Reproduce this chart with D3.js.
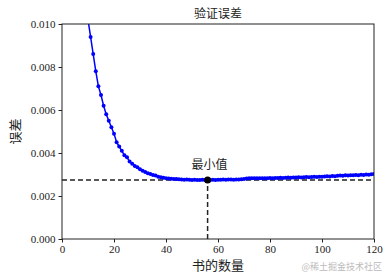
<!DOCTYPE html>
<html>
<head>
<meta charset="utf-8">
<script src="https://cdn.jsdelivr.net/npm/d3@7"></script>
<style>
  body { margin: 0; background: #fff; }
  text { font-family: "Liberation Serif", "Noto Sans CJK SC", serif; }
  .cjk { font-family: "Noto Sans CJK SC", sans-serif; }
</style>
</head>
<body>
<div id="plot_area"></div>
<script>
// data
const bookCounts = d3.range(8, 121);
const errors = [
  0.0125, 0.0112, 0.0102, 0.0094, 0.0086, 0.0078, 0.0071, 0.0067, 0.0062, 0.0058,
  0.0055, 0.0052, 0.0049, 0.0045, 0.0043, 0.0041, 0.0039, 0.0038, 0.0036, 0.0035,
  0.00340, 0.00334, 0.00325, 0.00318, 0.00312, 0.00306, 0.00302, 0.00298, 0.00295, 0.00290,
  0.00287, 0.00285, 0.00282, 0.00281, 0.00280, 0.00279, 0.00279, 0.00278, 0.00277, 0.00276,
  0.00277, 0.00276, 0.00275, 0.00276, 0.00275, 0.00275, 0.00276, 0.00275, 0.00274, 0.00275,
  0.00276, 0.00275, 0.00276, 0.00276, 0.00277, 0.00276, 0.00277, 0.00277, 0.00276, 0.00277,
  0.00277, 0.00278, 0.00279, 0.00281, 0.00283, 0.00283, 0.00282, 0.00283, 0.00283, 0.00282,
  0.00283, 0.00283, 0.00284, 0.00283, 0.00284, 0.00284, 0.00285, 0.00284, 0.00285, 0.00286,
  0.00285, 0.00286, 0.00286, 0.00287, 0.00286, 0.00287, 0.00288, 0.00287, 0.00288, 0.00289,
  0.00288, 0.00289, 0.00290, 0.00291, 0.00292, 0.00291, 0.00293, 0.00292, 0.00294, 0.00295,
  0.00294, 0.00296, 0.00295, 0.00297, 0.00296, 0.00298, 0.00297, 0.00299, 0.00298, 0.00300,
  0.00299, 0.00301, 0.00302
];
const xTicks = [0, 20, 40, 60, 80, 100, 120];
const yTicks = [0, 0.002, 0.004, 0.006, 0.008, 0.010];

const w = 390;
const h = 280;
const mLeft = 62, mRight = 374, mTop = 24, mBottom = 239;

const data = bookCounts.map((x, i) => [x, errors[i]]);
const minIdx = d3.minIndex(errors);
const minPoint = data[minIdx];

const xScale = d3.scaleLinear().domain([0, 120]).range([mLeft, mRight]);
const yScale = d3.scaleLinear().domain([0, 0.010]).range([mBottom, mTop]);

const svg = d3.select('#plot_area')
  .append('svg')
  .attr('width', w)
  .attr('height', h);

svg.append('clipPath').attr('id', 'clip')
  .append('rect')
  .attr('x', mLeft).attr('y', mTop)
  .attr('width', mRight - mLeft).attr('height', mBottom - mTop);

const plot = svg.append('g').attr('clip-path', 'url(#clip)');

// dashed guide lines at the minimum
plot.append('line')
  .attr('x1', xScale(0)).attr('x2', xScale(120))
  .attr('y1', yScale(minPoint[1])).attr('y2', yScale(minPoint[1]))
  .attr('stroke', '#222').attr('stroke-width', 1.5)
  .attr('stroke-dasharray', '5,3');
plot.append('line')
  .attr('x1', xScale(minPoint[0])).attr('x2', xScale(minPoint[0]))
  .attr('y1', yScale(0)).attr('y2', yScale(minPoint[1]))
  .attr('stroke', '#222').attr('stroke-width', 1.5)
  .attr('stroke-dasharray', '5,3');

plot.append('path')
  .datum(data)
  .attr('stroke', 'blue')
  .attr('stroke-width', 1.5)
  .attr('fill', 'none')
  .attr('d', d3.line()
    .x((d) => xScale(d[0]))
    .y((d) => yScale(d[1])));

plot.selectAll('circle.pt')
  .data(data)
  .join('circle')
  .attr('class', 'pt')
  .attr('cx', (d) => xScale(d[0]))
  .attr('cy', (d) => yScale(d[1]))
  .attr('r', 2)
  .attr('fill', 'blue');

svg.append('circle')
  .attr('cx', xScale(minPoint[0]))
  .attr('cy', yScale(minPoint[1]))
  .attr('r', 3.5)
  .attr('fill', 'black');

svg.append('text')
  .attr('class', 'cjk')
  .attr('x', xScale(minPoint[0]) + 2)
  .attr('y', yScale(minPoint[1]) - 11)
  .attr('text-anchor', 'middle')
  .style('font-size', '12px')
  .attr('fill', '#222')
  .text('最小值');

// axes
const xAxis = svg.append('g')
  .attr('transform', 'translate(0,' + mBottom + ')')
  .call(d3.axisBottom(xScale).tickValues(xTicks).tickSize(3.5).tickPadding(3));
const yAxis = svg.append('g')
  .attr('transform', 'translate(' + mLeft + ',0)')
  .call(d3.axisLeft(yScale).tickValues(yTicks).tickSize(3.5).tickPadding(3)
    .tickFormat(d3.format('.3f')));
[xAxis, yAxis].forEach((g) => {
  g.style('font-size', '11px');
  g.selectAll('text').attr('fill', '#222').style('font-family', '"Liberation Serif", serif');
  g.selectAll('line').attr('stroke', '#222');
  g.select('.domain').remove();
});

svg.append('rect')
  .attr('x', mLeft).attr('y', mTop)
  .attr('width', mRight - mLeft).attr('height', mBottom - mTop)
  .attr('fill', 'none').attr('stroke', '#222').attr('stroke-width', 1);

// labels
svg.append('text').attr('class', 'cjk')
  .attr('x', (mLeft + mRight) / 2).attr('y', 18)
  .attr('text-anchor', 'middle').style('font-size', '12px').attr('fill', '#222')
  .text('验证误差');
svg.append('text').attr('class', 'cjk')
  .attr('x', (mLeft + mRight) / 2).attr('y', 270)
  .attr('text-anchor', 'middle').style('font-size', '13px').attr('fill', '#222')
  .text('书的数量');
svg.append('text').attr('class', 'cjk')
  .attr('transform', 'translate(20,' + ((mTop + mBottom) / 2) + ') rotate(-90)')
  .attr('text-anchor', 'middle').style('font-size', '13px').attr('fill', '#222')
  .text('误差');
svg.append('text').attr('class', 'cjk')
  .attr('x', 382).attr('y', 270)
  .attr('text-anchor', 'end').style('font-size', '9px').attr('fill', '#bbb')
  .text('@稀土掘金技术社区');
</script>
</body>
</html>
